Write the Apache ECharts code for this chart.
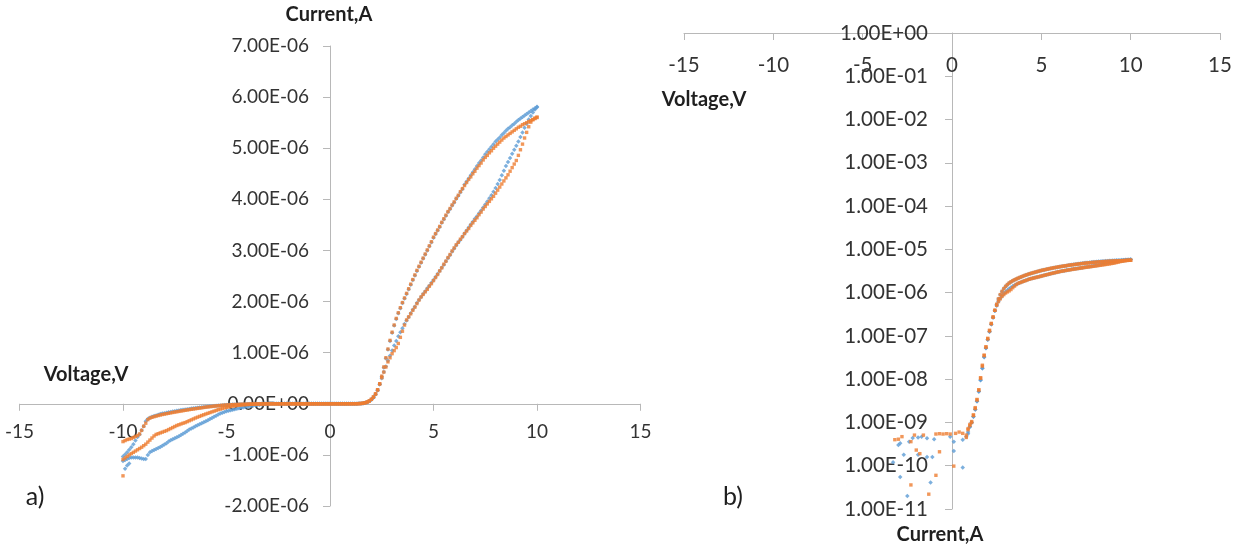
<!DOCTYPE html>
<html><head><meta charset="utf-8">
<script src="https://cdn.jsdelivr.net/npm/echarts@6/dist/echarts.min.js"></script>
<style>html,body{margin:0;padding:0;background:#fff}#c{width:1244px;height:548px}</style>
</head><body><div id="c"></div>
<script>
// Voltage sweep grid (V)
const voltage = [
-10,-9.9,-9.8,-9.7,-9.6,-9.5,-9.4,-9.3,-9.2,-9.1,
-9,-8.9,-8.8,-8.7,-8.6,-8.5,-8.4,-8.3,-8.2,-8.1,
-8,-7.9,-7.8,-7.7,-7.6,-7.5,-7.4,-7.3,-7.2,-7.1,
-7,-6.9,-6.8,-6.7,-6.6,-6.5,-6.4,-6.3,-6.2,-6.1,
-6,-5.9,-5.8,-5.7,-5.6,-5.5,-5.4,-5.3,-5.2,-5.1,
-5,-4.9,-4.8,-4.7,-4.6,-4.5,-4.4,-4.3,-4.2,-4.1,
-4,-3.9,-3.8,-3.7,-3.6,-3.5,-3.4,-3.3,-3.2,-3.1,
-3,-2.9,-2.8,-2.7,-2.6,-2.5,-2.4,-2.3,-2.2,-2.1,
-2,-1.9,-1.8,-1.7,-1.6,-1.5,-1.4,-1.3,-1.2,-1.1,
-1,-0.9,-0.8,-0.7,-0.6,-0.5,-0.4,-0.3,-0.2,-0.1,
0,0.1,0.2,0.3,0.4,0.5,0.6,0.7,0.8,0.9,
1,1.1,1.2,1.3,1.4,1.5,1.6,1.7,1.8,1.9,
2,2.1,2.2,2.3,2.4,2.5,2.6,2.7,2.8,2.9,
3,3.1,3.2,3.3,3.4,3.5,3.6,3.7,3.8,3.9,
4,4.1,4.2,4.3,4.4,4.5,4.6,4.7,4.8,4.9,
5,5.1,5.2,5.3,5.4,5.5,5.6,5.7,5.8,5.9,
6,6.1,6.2,6.3,6.4,6.5,6.6,6.7,6.8,6.9,
7,7.1,7.2,7.3,7.4,7.5,7.6,7.7,7.8,7.9,
8,8.1,8.2,8.3,8.4,8.5,8.6,8.7,8.8,8.9,
9,9.1,9.2,9.3,9.4,9.5,9.6,9.7,9.8,9.9,
10];

// Currents in nA, one value per voltage step
const blueFwd = [
-1120,-1100,-1080,-1060,-1050,-1050,-1050,-1050,-1060,-1070,
-1080,-1080,-1000,-950,-925,-905,-885,-865,-845,-820,
-795,-770,-740,-715,-695,-675,-655,-635,-610,-585,
-560,-535,-505,-485,-465,-440,-420,-400,-380,-360,
-340,-320,-300,-278,-256,-235,-212,-192,-175,-160,
-145,-135,-125,-115,-105,-97,-89,-80,-72,-64,
-56,-48,-41,-34,-28,-22,-17,-13,-9,-6,
0.30,0.33,-0.2,-0.2,-0.2,-0.2,0.36,-0.2,0.44,-0.2,
-0.2,0.45,-0.2,0.47,-0.2,-0.2,0.43,-0.2,-0.2,-0.2,
0.41,-0.2,-0.2,-0.2,-0.2,-0.2,-0.2,-0.2,-0.2,0.47,
-0.2,0.36,-0.2,-0.2,-0.2,-0.2,0.40,-0.2,0.47,0.55,
0.81,1.0,1.38,2.0,3.1,5.2,9.5,18,32,52,
82,125,185,265,380,500,620,730,840,940,
1040,1140,1230,1320,1400,1480,1560,1630,1700,1770,
1840,1900,1970,2030,2090,2150,2200,2260,2310,2370,
2420,2480,2540,2600,2660,2720,2790,2850,2910,2980,
3040,3100,3160,3210,3270,3330,3390,3450,3510,3560,
3620,3670,3730,3780,3840,3900,3960,4020,4080,4150,
4220,4300,4380,4470,4560,4650,4730,4810,4890,4970,
5050,5130,5220,5310,5400,5480,5560,5630,5700,5760,
5800];

const blueRev = [
-1030,-990,-950,-900,-850,-790,-720,-650,-600,-520,
-440,-340,-300,-275,-255,-240,-228,-215,-202,-192,
-184,-176,-168,-160,-152,-145,-138,-131,-124,-118,
-112,-106,-100,-94,-88,-83,-78,-73,-68,-63,
-58,-54,-50,-46,-42,-38,-35,-32,-29,-26,
-23,-20.5,-18,-16,-14,-12.5,-11,-9.6,-8.4,-7.3,
-6.3,-5.4,-4.6,-3.9,-3.3,-2.7,-2.2,0.12,-1.4,-1.1,
-0.8,0.055,-0.5,0.18,-0.3,0.020,-0.2,-0.15,-0.1,-0.1,
-0.1,0.18,-0.1,-0.1,-0.1,-0.1,0.16,-0.1,0.041,0.16,
-0.1,-0.1,-0.1,-0.1,-0.1,-0.1,-0.1,-0.1,-0.1,-0.1,
-0.1,0.22,-0.1,-0.1,-0.1,-0.1,0.091,-0.1,-0.1,0.6,
0.78,0.98,1.35,2.0,3.1,5.2,9.6,18,33,53,
83,127,186,266,380,530,710,890,1060,1230,
1390,1530,1660,1770,1870,1970,2060,2150,2240,2330,
2420,2510,2600,2680,2760,2840,2920,3000,3080,3160,
3250,3320,3390,3460,3540,3610,3680,3750,3810,3880,
3940,4010,4070,4140,4200,4290,4350,4410,4470,4530,
4590,4650,4710,4760,4820,4880,4930,4980,5030,5080,
5130,5170,5210,5260,5300,5340,5380,5410,5450,5480,
5520,5550,5580,5610,5640,5670,5700,5730,5760,5780,
5810];

const orangeFwd = [
-1090,-1060,-1030,-1000,-975,-950,-925,-900,-875,-850,
-820,-790,-750,-710,-670,-630,-600,-585,-570,-555,
-540,-525,-505,-485,-465,-445,-425,-410,-395,-380,
-368,-350,-332,-314,-296,-278,-262,-246,-230,-215,
-200,-186,-172,-158,-144,-130,-116,-104,-92,-81,
-71,-62,-54,-46,-40,-34,-29,-25,-21,-18,
-15,-12.5,-10.5,-8.7,-7.2,-5.9,-4.8,-3.9,0.40,-0.2,
0.41,-0.2,0.47,-0.2,-0.2,-0.2,-0.2,0.36,-0.2,0.51,
-0.2,-0.2,-0.2,-0.2,0.51,-0.2,-0.2,-0.2,-0.2,-0.2,
-0.2,0.54,-0.2,0.55,-0.2,0.54,-0.2,0.55,-0.2,0.54,
-0.2,-0.2,0.56,-0.2,0.60,-0.2,0.56,-0.2,0.51,0.72,
0.9,1.0,1.45,2.1,3.3,5.6,10.8,21,36,56,
88,135,195,275,390,510,620,720,820,900,
980,1040,1100,1180,1300,1420,1540,1640,1700,1760,
1830,1890,1960,2030,2090,2140,2190,2240,2300,2350,
2410,2470,2530,2600,2660,2730,2790,2860,2920,2990,
3050,3110,3160,3220,3270,3330,3380,3430,3490,3540,
3590,3640,3700,3750,3810,3860,3910,3960,4010,4060,
4120,4180,4240,4300,4360,4420,4480,4550,4620,4690,
4760,4860,4970,5080,5200,5310,5420,5510,5560,5590,
5610];

const orangeRev = [
-740,-720,-700,-690,-680,-660,-640,-620,-590,-520,
-440,-380,-310,-280,-265,-252,-240,-230,-220,-210,
-202,-194,-186,-178,-170,-163,-156,-149,-142,-135,
-128,-121,-114,-108,-102,-96,-90,-84,-78,-72,
-66,-61,-56,-51,-46,-42,-38,-34,-30,-27,
-24,-21,-19,-17,-15,-13,-11.5,-10,-8.8,-7.6,
-6.6,-5.7,-4.9,-4.2,-3.6,-3.0,-2.5,-2.0,-1.6,-1.2,
-0.9,-0.7,-0.5,-0.4,-0.3,-0.2,-0.15,0.036,-0.1,-0.1,
0.23,-0.1,0.19,-0.1,-0.1,-0.1,-0.1,0.022,-0.1,-0.1,
-0.1,0.06,-0.1,0.21,-0.1,-0.1,-0.1,-0.1,-0.1,-0.1,
-0.1,0.098,-0.1,-0.1,-0.1,-0.1,-0.1,-0.1,0.45,0.68,
0.85,1.05,1.5,2.2,3.4,5.7,10.5,20,35,55,
85,130,190,270,390,540,720,900,1070,1240,
1400,1540,1670,1780,1880,1980,2070,2160,2250,2340,
2430,2520,2610,2690,2770,2850,2930,3010,3090,3170,
3260,3330,3400,3470,3550,3620,3690,3760,3820,3890,
3950,4020,4080,4150,4210,4270,4330,4390,4440,4500,
4550,4610,4660,4710,4770,4820,4860,4910,4950,5000,
5040,5080,5120,5160,5200,5230,5260,5290,5320,5350,
5380,5410,5430,5460,5480,5500,5520,5540,5560,5580,
5600];

// stray end-of-sweep points (nA)
const blueExtraV = [-9.9, -9.8, -9.7];
const blueExtraI = [-1270, -1210, -1170];
const orangeExtraV = [-10];
const orangeExtraI = [-1410];

// Axis ticks
const xTicks = { min: -15, max: 15, step: 5 };
const linTicks = { min: -2e-6, max: 7e-6, step: 1e-6 };
const logDecades = { min: -11, max: 0, step: 1 };

const BLUE = '#5B9BD5', ORANGE = '#ED7D31';
const AXIS = '#b8b8b8', LABEL = '#333333', TITLE = '#1f1f1f';
const FONT = 'Lato';

function pts(vs, is) {
  const out = [];
  for (let k = 0; k < vs.length; k++) out.push([vs[k], is[k] * 1e-9]);
  return out;
}
const bluePts = pts(voltage, blueFwd).concat(pts(voltage, blueRev), pts(blueExtraV, blueExtraI));
const orangePts = pts(voltage, orangeFwd).concat(pts(voltage, orangeRev), pts(orangeExtraV, orangeExtraI));
function logPts(p) {
  return p.filter(d => d[1] > 0).map(d => [d[0], Math.log10(d[1])]);
}

function sci(v) {
  if (Math.abs(v) < 1e-13) return '0.00E+00';
  const m = v.toExponential(2).match(/^(-?\d\.\d\d)e([+-])(\d+)$/);
  return m[1] + 'E' + m[2] + (m[3].length < 2 ? '0' + m[3] : m[3]);
}
function decLabel(v) {
  const n = Math.round(v);
  const a = Math.abs(n);
  return '1.00E' + (n < 0 ? '-' : '+') + (a < 10 ? '0' + a : '' + a);
}

// grid geometry (px)
const gA = { left: 19.5, top: 46, width: 621, height: 460 };
const gB = { left: 684, top: 33, width: 536, height: 476 };
// crossing axes: shift each axis to the other axis' zero via offset
const aYOffset = -gA.width * (0 - xTicks.min) / (xTicks.max - xTicks.min);
const aXOffset = -gA.height * (0 - linTicks.min) / (linTicks.max - linTicks.min);
const bYOffset = -gB.width * (0 - xTicks.min) / (xTicks.max - xTicks.min);

const chart = echarts.init(document.getElementById('c'), null, { renderer: 'canvas' });
const axisLineStyle = { onZero: false, lineStyle: { color: AXIS, width: 1 } };
const tick = { show: true, length: 7, lineStyle: { color: AXIS } };

chart.setOption({
  animation: false,
  backgroundColor: '#fff',
  textStyle: { fontFamily: FONT },
  grid: [
    Object.assign({ containLabel: false, outerBoundsMode: 'none' }, gA),
    Object.assign({ containLabel: false, outerBoundsMode: 'none' }, gB)
  ],
  xAxis: [
    { gridIndex: 0, type: 'value', min: xTicks.min, max: xTicks.max, interval: xTicks.step,
      position: 'bottom', offset: aXOffset,
      axisLine: axisLineStyle, axisTick: tick, splitLine: { show: false },
      axisLabel: { color: LABEL, fontSize: 19, fontFamily: FONT, margin: 19, showMinLabel: true, showMaxLabel: true } },
    { gridIndex: 1, type: 'value', min: xTicks.min, max: xTicks.max, interval: xTicks.step,
      position: 'top',
      axisLine: axisLineStyle,
      axisTick: Object.assign({ inside: true }, tick), splitLine: { show: false },
      axisLabel: { inside: true, color: LABEL, fontSize: 20.5, fontFamily: FONT, margin: 22, showMinLabel: true, showMaxLabel: true } }
  ],
  yAxis: [
    { gridIndex: 0, type: 'value', min: linTicks.min, max: linTicks.max, interval: linTicks.step,
      position: 'left', offset: aYOffset,
      axisLine: axisLineStyle, axisTick: tick, splitLine: { show: false },
      axisLabel: { color: LABEL, fontSize: 19, fontFamily: FONT, margin: 21, formatter: sci, showMinLabel: true, showMaxLabel: true } },
    { gridIndex: 1, type: 'value', min: logDecades.min, max: logDecades.max, interval: logDecades.step,
      position: 'left', offset: bYOffset,
      axisLine: axisLineStyle, axisTick: tick, splitLine: { show: false },
      axisLabel: { color: LABEL, fontSize: 20.5, fontFamily: FONT, margin: 24, formatter: decLabel, showMinLabel: true, showMaxLabel: true } }
  ],
  series: [
    { name: 'Series1', type: 'scatter', xAxisIndex: 0, yAxisIndex: 0, data: bluePts,
      symbol: 'diamond', symbolSize: 4.5, itemStyle: { color: BLUE }, silent: true },
    { name: 'Series2', type: 'scatter', xAxisIndex: 0, yAxisIndex: 0, data: orangePts,
      symbol: 'rect', symbolSize: 3.4, itemStyle: { color: ORANGE }, silent: true },
    { name: 'Series1', type: 'scatter', xAxisIndex: 1, yAxisIndex: 1, data: logPts(bluePts),
      symbol: 'diamond', symbolSize: 4.5, itemStyle: { color: BLUE }, silent: true },
    { name: 'Series2', type: 'scatter', xAxisIndex: 1, yAxisIndex: 1, data: logPts(orangePts),
      symbol: 'rect', symbolSize: 3.4, itemStyle: { color: ORANGE }, silent: true }
  ],
  graphic: [
    { type: 'text', x: 329, y: 15, style: { text: 'Current,A', fontSize: 20, fontWeight: 'bold', fontFamily: FONT, fill: TITLE, align: 'center', verticalAlign: 'middle', textAlign: 'center', textVerticalAlign: 'middle' } },
    { type: 'text', x: 86, y: 375, style: { text: 'Voltage,V', fontSize: 20, fontWeight: 'bold', fontFamily: FONT, fill: TITLE, align: 'center', verticalAlign: 'middle', textAlign: 'center', textVerticalAlign: 'middle' } },
    { type: 'text', x: 35, y: 497, style: { text: 'a)', fontSize: 25, fontFamily: FONT, fill: TITLE, align: 'center', verticalAlign: 'middle', textAlign: 'center', textVerticalAlign: 'middle' } },
    { type: 'text', x: 704, y: 100, style: { text: 'Voltage,V', fontSize: 20, fontWeight: 'bold', fontFamily: FONT, fill: TITLE, align: 'center', verticalAlign: 'middle', textAlign: 'center', textVerticalAlign: 'middle' } },
    { type: 'text', x: 940, y: 535, style: { text: 'Current,A', fontSize: 20, fontWeight: 'bold', fontFamily: FONT, fill: TITLE, align: 'center', verticalAlign: 'middle', textAlign: 'center', textVerticalAlign: 'middle' } },
    { type: 'text', x: 733, y: 497, style: { text: 'b)', fontSize: 25, fontFamily: FONT, fill: TITLE, align: 'center', verticalAlign: 'middle', textAlign: 'center', textVerticalAlign: 'middle' } }
  ]
});
</script>
</body></html>
